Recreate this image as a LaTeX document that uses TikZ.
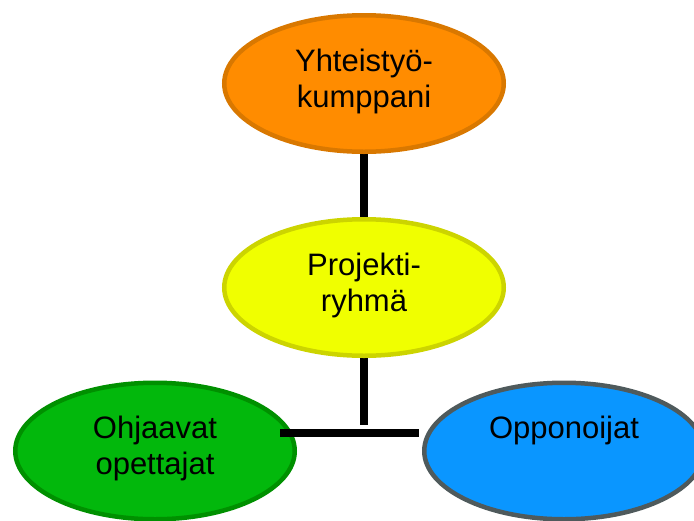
\documentclass[tikz,border=0pt]{standalone}
\usepackage{fontspec}
\setmainfont{Liberation Sans}
\usetikzlibrary{shapes.geometric,backgrounds}
\definecolor{orfill}{HTML}{FF8C00}
\definecolor{ordraw}{HTML}{D97800}
\definecolor{yefill}{HTML}{F0FF00}
\definecolor{yedraw}{HTML}{CCD400}
\definecolor{grfill}{HTML}{02B80C}
\definecolor{grdraw}{HTML}{009000}
\definecolor{blfill}{HTML}{0A96FF}
\definecolor{bldraw}{HTML}{4F5A5C}
\newcommand{\etxt}[1]{\makebox[0pt]{\raisebox{12.5pt}[0pt][0pt]{\parbox[t]{250pt}{\centering\fontsize{31}{36}\selectfont #1}}}}
\begin{document}
\begin{tikzpicture}[x=1pt,y=-1pt,
  bubble/.style={ellipse, line width=4.5pt, minimum width=279.5pt, minimum height=136.5pt, inner sep=0pt, outer sep=0pt},
  link/.style={line width=7.5pt, draw=black}]
\useasboundingbox (0,0) rectangle (694,520);
\clip (0,0) rectangle (694,520);
\node[bubble, fill=orfill, draw=ordraw] (partner) at (364,83.5) {\etxt{Yhteistyö-\\kumppani}};
\node[bubble, fill=yefill, draw=yedraw] (group) at (364,287.5) {\etxt{Projekti-\\ryhmä}};
\node[bubble, fill=grfill, draw=grdraw] (teachers) at (155,451) {\etxt{Ohjaavat\\opettajat}};
\node[bubble, fill=blfill, draw=bldraw] (opponents) at (564,451) {\etxt{Opponoijat}};
\coordinate (stemend) at (364,425);
\coordinate (barL) at (280,432.5);
\coordinate (barR) at (419,432.5);
\begin{pgfonlayer}{background}
\draw[link] (partner.south) -- (group.north);
\draw[link] (group.south) -- (stemend);
\end{pgfonlayer}
\draw[link, line width=8pt] (barL) -- (barR);
\end{tikzpicture}
\end{document}
